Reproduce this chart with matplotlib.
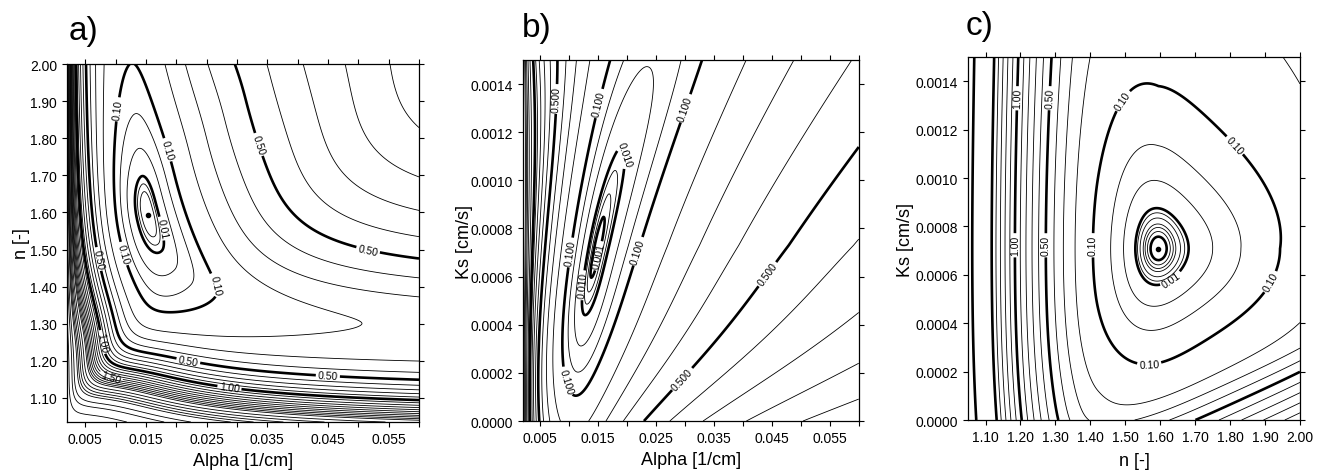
import numpy as np
import matplotlib.pyplot as plt
from matplotlib.ticker import FormatStrFormatter, MultipleLocator

plt.rcParams['font.family'] = ['Liberation Sans', 'DejaVu Sans']

# axis ranges
alpha_lim = [0.002, 0.06]
n_lim_a = [1.035, 2.0]
n_lim_c = [1.05, 2.0]
ks_lim = [0.0, 0.0015]

# optimum (dot) positions
opt_a = [0.0154, 1.593]
opt_c = [1.595, 0.000708]

# contour levels
lev_a_thin = [0.003, 0.006, 0.03, 0.06, 0.2, 0.3, 0.4, 0.6, 0.7, 0.8, 0.9, 1.1, 1.2, 1.3,
              1.4, 1.5, 1.6, 1.7, 1.8, 1.9, 2.0, 2.2, 2.4, 2.6, 2.8, 3.0, 3.5, 4.0, 5.0]
lev_a_thick = [0.01, 0.1, 0.5, 1.0]
lev_b_thin = [0.003, 0.006, 0.03, 0.06, 0.2, 0.3, 0.4, 0.6, 0.7, 0.8, 0.9, 1.2, 1.4,
              1.6, 1.8, 2.0, 2.5, 3.0]
lev_b_thick = [0.001, 0.01, 0.1, 0.5, 1.0]
lev_c_thin = [0.002, 0.003, 0.004, 0.006, 0.008, 0.025, 0.05, 0.2, 0.3, 0.4, 0.6, 0.7,
              0.8, 0.9, 1.1, 1.2, 1.3, 1.4]
lev_c_thick = [0.001, 0.01, 0.1, 0.5, 1.0, 1.5, 2.0]

# where the contour labels sit in the picture
lab_a = {0.01: [(0.0172, 1.555)],
         0.1: [(0.0098, 1.879), (0.0180, 1.766), (0.0120, 1.492), (0.0287, 1.416)],
         0.5: [(0.0347, 1.789), (0.0524, 1.555), (0.0071, 1.474), (0.0221, 1.209),
               (0.0450, 1.164)],
         1.0: [(0.00765, 1.25), (0.0287, 1.119)],
         1.5: [(0.0090, 1.142)]}
lab_b = {0.001: [(0.01495, 0.000687)],
         0.01: [(0.01926, 0.001109), (0.01322, 0.000562)],
         0.1: [(0.01436, 0.001324), (0.02962, 0.001303), (0.01004, 0.000701),
               (0.02242, 0.000701), (0.0112, 0.000175)],
         0.5: [(0.00775, 0.001338), (0.04457, 0.000604), (0.0276, 0.000216)]}
lab_c = {0.01: [(1.629, 0.000584)],
         0.1: [(1.524, 0.00129), (1.815, 0.001137), (1.41, 0.000722), (1.882, 0.000598),
               (1.567, 0.000273)],
         0.5: [(1.281, 0.00133), (1.257, 0.000722)],
         1.0: [(1.176, 0.00133), (1.171, 0.000722)]}

# ---------- response surfaces ----------
ga = np.linspace(alpha_lim[0], alpha_lim[1], 700)
gn = np.linspace(n_lim_a[0], n_lim_a[1], 700)
A, N = np.meshgrid(ga, gn)
X = (A - 0.00969) / 0.01
Y = (N - 1.25) / 0.175
R = np.sqrt((X - Y) ** 2 + 4 * 1.12)
D = X + Y - R
T = (X - Y) / R
Xs = 1.25 * X
Dd = Xs + Y - np.sqrt((Xs - Y) ** 2 + 5 * 1.12)
up = 0.267 * np.log1p((D / 1.4) ** 2)
corner = 1 - 0.45 * np.exp(-((T - 0.1) / 0.35) ** 2)
dn = 0.066 * Dd ** 2 * (1 + 0.33 * Dd ** 2) * corner
dt = T + 0.5487
G = np.where(dt > 0, 0.106 * np.abs(dt) ** 1.8, 0.01 * (np.abs(dt) / 0.156) ** 3)
fa = np.where(D > 0, up, dn) + G + 2.0 * np.exp(-(A - 0.002) / 0.0006)

gk = np.linspace(ks_lim[0], ks_lim[1], 700)
Ab, Kb = np.meshgrid(ga, gk)
P = (Ab - 0.0149) / 0.01
S = (Kb - 0.00073) / 0.0001
Aa = P - (0.085 * S + 0.004 * S ** 2)
xl = Aa / np.exp(0.053 * S + 0.003 * S ** 2)
xr = Aa / np.exp(np.where(S > 0, 0.06, 0.07) * S)
across = np.where(Aa < 0, 0.46 * xl ** 2 * (1 + 0.4 * xl ** 2),
                  0.18 * np.log1p((xr / 0.85) ** 2))
along = np.where(S > 0, 0.01 * (np.abs(S) / 4.1) ** 1.85, 0.01 * (np.abs(S) / 2.9) ** 3)
fb = across + along + 1.5 * np.exp(-(Ab - 0.002) / 0.0007)

gnc = np.linspace(n_lim_c[0], n_lim_c[1], 700)
Nc, Kc = np.meshgrid(gnc, gk)
U = Nc - 1.595
V = (Kc * 1e4 - 7.08) * 0.0633
Yc = np.where(V > 0, V / (1.32 + 1.235 * V), V / 1.3)
Rc = np.hypot(U, Yc) + 1e-12
ct = U / Rc
c3 = 4 * ct ** 3 - 3 * ct
w = Rc ** 2 / (Rc ** 2 + 0.0081)
core = 1.883 * Rc ** 2 * (1 - w * (0.358 * ct + 0.241 * c3))
core = core / (1 + 2.5 * np.clip(U, 0, None) * np.clip(V, 0, None))
tr = Nc - 1.45 - 0.1735 * Kc * 1e4
fc = core + 9 * np.clip(1.42 - Nc, 0, None) ** 2 + 0.94 * 0.05 * np.log1p(np.exp(tr / 0.05))

# ---------- figure ----------
fig = plt.figure(figsize=(13.23, 4.77), dpi=100)
ax_a = fig.add_axes([0.0506, 0.1132, 0.2661, 0.7505])
ax_b = fig.add_axes([0.3951, 0.1153, 0.2540, 0.7568])
ax_c = fig.add_axes([0.7317, 0.1174, 0.2509, 0.7610])


def draw(ax, gx, gy, f, thin, thick, labels, fmt):
    for levs, lw in ((thin, 0.6), (thick, 1.9)):
        plain = [l for l in levs if l not in labels]
        if plain:
            ax.contour(gx, gy, f, levels=plain, colors='k', linewidths=lw)
        for l in levs:
            if l in labels:
                cs = ax.contour(gx, gy, f, levels=[l], colors='k', linewidths=lw)
                ax.clabel(cs, manual=labels[l], fmt=fmt, fontsize=7.5, inline=True,
                          inline_spacing=2)


draw(ax_a, ga, gn, fa, lev_a_thin, lev_a_thick, lab_a, '%.2f')
draw(ax_b, ga, gk, fb, lev_b_thin, lev_b_thick, lab_b, '%.3f')
draw(ax_c, gnc, gk, fc, lev_c_thin, lev_c_thick, lab_c, '%.2f')
ax_a.plot(*opt_a, 'ko', ms=3)
ax_c.plot(*opt_c, 'ko', ms=3)

for ax in (ax_a, ax_b):
    ax.set_xlim(alpha_lim)
    ax.set_xticks(np.arange(0.005, 0.0551, 0.01))
    ax.xaxis.set_major_formatter(FormatStrFormatter('%.3f'))
    ax.xaxis.set_minor_locator(MultipleLocator(0.01))
    ax.set_xlabel('Alpha [1/cm]', fontsize=13)
ax_a.set_ylim(n_lim_a)
ax_a.set_yticks(np.arange(1.1, 2.001, 0.1))
ax_a.yaxis.set_major_formatter(FormatStrFormatter('%.2f'))
ax_a.set_ylabel('n [-]', fontsize=13)

for ax in (ax_b, ax_c):
    ax.set_ylim(ks_lim)
    ax.set_yticks(np.arange(0, 0.00141, 0.0002))
    ax.yaxis.set_major_formatter(FormatStrFormatter('%.4f'))
    ax.set_ylabel('Ks [cm/s]', fontsize=13)
ax_c.set_xlim(n_lim_c)
ax_c.set_xticks(np.arange(1.1, 2.001, 0.1))
ax_c.xaxis.set_major_formatter(FormatStrFormatter('%.2f'))
ax_c.set_xlabel('n [-]', fontsize=13)

for ax in (ax_a, ax_b, ax_c):
    ax.tick_params(which='both', direction='out', length=3.5, width=0.8, labelsize=10,
                   top=True, right=True)
    for sp in ax.spines.values():
        sp.set_linewidth(0.9)

ax_a.xaxis.set_label_coords(0.5, -0.085)
ax_a.yaxis.set_label_coords(-0.105, 0.5)
ax_b.xaxis.set_label_coords(0.5, -0.082)
ax_b.yaxis.set_label_coords(-0.148, 0.5)
ax_c.xaxis.set_label_coords(0.5, -0.088)
ax_c.yaxis.set_label_coords(-0.162, 0.5)

fig.text(69 / 1323, 1 - 16 / 477, 'a)', fontsize=24, va='top', ha='left')
fig.text(522 / 1323, 1 - 13 / 477, 'b)', fontsize=24, va='top', ha='left')
fig.text(966 / 1323, 1 - 11 / 477, 'c)', fontsize=24, va='top', ha='left')

fig.savefig('out.png', dpi=100)
